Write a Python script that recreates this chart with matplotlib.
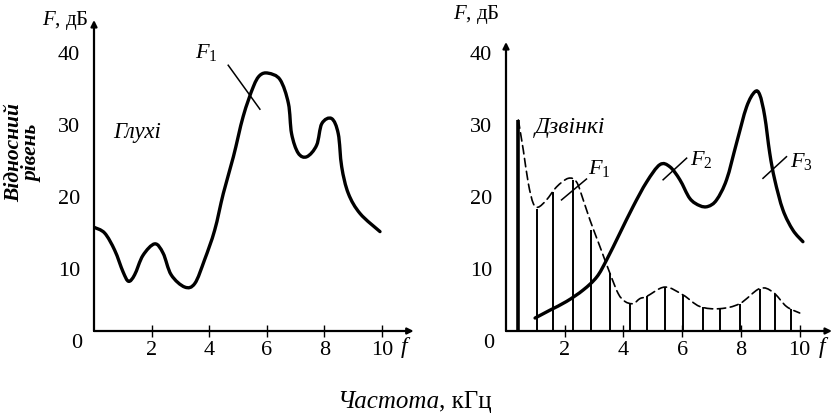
import matplotlib
matplotlib.use('Agg')
import matplotlib.pyplot as plt
from matplotlib.path import Path
from matplotlib.patches import PathPatch

plt.rcParams['font.family'] = ['Liberation Serif', 'DejaVu Serif']
plt.rcParams['mathtext.fontset'] = 'custom'
plt.rcParams['mathtext.it'] = 'Liberation Serif:italic'
plt.rcParams['mathtext.rm'] = 'Liberation Serif'

# ---------------- data ----------------
x_ticks = [2, 4, 6, 8, 10]
y_ticks = [10, 20, 30, 40]

# "Глухі" (dull sounds): envelope F1
dull_f = [0.0, 0.37, 0.72, 1.01, 1.20, 1.41, 1.70, 2.11, 2.40, 2.68, 3.15, 3.50,
          3.84, 4.19, 4.49, 4.84, 5.18, 5.53, 5.76, 6.05, 6.46, 6.75, 6.86, 7.09,
          7.39, 7.73, 7.91, 8.25, 8.48, 8.60, 8.83, 9.24, 9.93]
dull_F1 = [15.8, 15.0, 12.6, 9.6, 8.3, 9.2, 11.9, 13.5, 12.2, 9.2, 7.5, 8.0,
           11.3, 15.4, 20.5, 25.6, 31.2, 35.3, 36.9, 37.2, 36.3, 33.0, 28.8, 26.1,
           25.6, 27.2, 30.2, 30.9, 28.8, 24.2, 20.5, 17.7, 15.2]

# "Дзвінкі" (sonorous sounds): harmonics (vertical lines)
ring_harm_f = [0.42, 1.04, 1.61, 2.29, 2.91, 3.54, 4.22, 4.79, 5.41, 6.03,
               6.71, 7.28, 7.96, 8.64, 9.15, 9.72]
ring_harm_lvl = [30.7, 18.4, 20.7, 22.4, 15.4, 9.4, 5.2, 6.2, 7.5, 6.4,
                 4.7, 4.4, 5.2, 7.3, 6.6, 4.4]

# dashed envelope F1 of harmonics
ring_env_f = [0.42, 0.59, 0.76, 0.93, 1.10, 1.38, 1.72, 2.12, 2.40, 2.63, 2.86,
              3.20, 3.54, 3.82, 4.05, 4.33, 4.56, 4.79, 5.41, 6.03, 6.60, 7.28,
              7.96, 8.64, 9.09, 9.55, 10.0]
ring_env_lvl = [30.7, 26.5, 21.9, 19.1, 18.6, 19.6, 21.4, 22.6, 22.1, 19.6, 16.8,
                13.1, 9.4, 6.6, 5.5, 5.2, 5.9, 6.2, 7.5, 6.4, 4.8, 4.5,
                5.2, 7.3, 6.8, 4.8, 3.9]

# solid curve with formants F2, F3
ring_F23_f = [0.99, 1.50, 2.06, 2.63, 3.09, 3.43, 3.88, 4.33, 4.79, 5.24, 5.58,
              5.92, 6.26, 6.60, 6.88, 7.17, 7.51, 7.85, 8.19, 8.47, 8.64, 8.81,
              8.98, 9.15, 9.43, 9.77, 10.11]
ring_F23_lvl = [3.2, 4.3, 5.5, 7.1, 8.9, 11.3, 15.0, 18.7, 22.1, 24.5, 24.2,
                22.4, 19.8, 18.8, 18.7, 19.6, 22.4, 27.5, 32.5, 34.6, 34.2, 31.2,
                26.1, 22.4, 18.2, 15.4, 13.8]


def smooth_path(xs, ys):
    """Bezier path passing through every read point (Catmull-Rom tangents)."""
    pts = list(zip(xs, ys))
    n = len(pts)
    verts = [pts[0]]
    codes = [Path.MOVETO]
    for i in range(n - 1):
        p0 = pts[i - 1] if i > 0 else pts[i]
        p1 = pts[i]
        p2 = pts[i + 1]
        p3 = pts[i + 2] if i + 2 < n else pts[i + 1]
        c1 = (p1[0] + (p2[0] - p0[0]) / 6, p1[1] + (p2[1] - p0[1]) / 6)
        c2 = (p2[0] - (p3[0] - p1[0]) / 6, p2[1] - (p3[1] - p1[1]) / 6)
        verts += [c1, c2, p2]
        codes += [Path.CURVE4] * 3
    return Path(verts, codes)


def draw_curve(ax, xs, ys, **kw):
    patch = PathPatch(smooth_path(xs, ys), fill=False, edgecolor='black',
                      capstyle='round', joinstyle='round', **kw)
    ax.add_patch(patch)


# ---------------- figure ----------------
fig = plt.figure(figsize=(8.4, 4.17), dpi=100)
Y0 = 1.4
XMAX = 11.1


def setup(ax, ytop):
    ax.set_xlim(0, XMAX)
    ax.set_ylim(Y0, ytop)
    for s in ax.spines.values():
        s.set_visible(False)
    ax.set_xticks(x_ticks)
    ax.set_yticks(y_ticks)
    ax.tick_params(axis='x', direction='inout', length=9, width=1.0,
                   labelsize=16, pad=3)
    ax.tick_params(axis='y', length=0, labelsize=16, pad=10)
    arrow = dict(arrowstyle='-|>', lw=1.6, color='black', mutation_scale=9,
                 shrinkA=0, shrinkB=0)
    ax.annotate('', xy=(0, 1), xytext=(0, 0), xycoords='axes fraction',
                arrowprops=arrow)
    ax.annotate('', xy=(1, 0), xytext=(0, 0), xycoords='axes fraction',
                arrowprops=arrow)
    ax.text(-0.6, -0.3, '0', ha='center', va='center', fontsize=16,
            clip_on=False)
    ax.text(10.82, -0.9, '$f$', ha='center', va='center', fontsize=17,
            clip_on=False)


# left panel
axL = fig.add_axes([94 / 840, 86 / 417, 319.7 / 840, 311 / 417])
setup(axL, (341 - 20) / 7.2)
draw_curve(axL, dull_f, dull_F1, lw=2.4)
axL.plot([4.66, 5.76], [38.3, 32.2], color='black', lw=1.1)
axL.text(3.5, 40.1, '$F_{1}$', fontsize=16, ha='left', va='center')
axL.text(0.66, 28.9, 'Глухі', fontsize=16.5, style='italic', ha='left',
         va='center')

# right panel
axR = fig.add_axes([506 / 840, 86 / 417, 326 / 840, 289 / 417])
setup(axR, (341 - 42) / 7.2)
axR.vlines(ring_harm_f[:1], Y0, ring_harm_lvl[:1], color='black', lw=2.6)
axR.vlines(ring_harm_f[1:], Y0, ring_harm_lvl[1:], color='black', lw=1.4)
draw_curve(axR, ring_env_f, ring_env_lvl, lw=1.2, linestyle=(0, (5, 2.8)))
draw_curve(axR, ring_F23_f, ring_F23_lvl, lw=2.4)
axR.plot([1.89, 2.74], [19.6, 22.5], color='black', lw=1.1)
axR.plot([5.35, 6.15], [22.4, 25.4], color='black', lw=1.1)
axR.plot([8.75, 9.55], [22.6, 25.6], color='black', lw=1.1)
axR.text(2.79, 24.0, '$F_{1}$', fontsize=16, ha='left', va='center')
axR.text(6.26, 25.2, '$F_{2}$', fontsize=16, ha='left', va='center')
axR.text(9.66, 24.9, '$F_{3}$', fontsize=16, ha='left', va='center')
axR.text(0.99, 29.6, 'Дзвінкі', fontsize=17, style='italic', ha='left',
         va='center')

# axis titles
fig.text(42 / 840, 1 - 20 / 417, '$F$, дБ', fontsize=15, ha='left',
         va='center')
fig.text(453 / 840, 1 - 15 / 417, '$F$, дБ', fontsize=15, ha='left',
         va='center')
fig.text(23 / 840, 1 - 153 / 417, 'Відносний\nрівень', fontsize=15.5,
         style='italic', weight='bold', rotation=90, ha='center',
         va='center', linespacing=0.9)
fig.text(439 / 840, 1 - 402 / 417, 'Частота', fontsize=18, style='italic',
         ha='right', va='center')
fig.text(439 / 840, 1 - 402 / 417, ', кГц', fontsize=18, ha='left',
         va='center')

fig.savefig('out.png', dpi=100)
